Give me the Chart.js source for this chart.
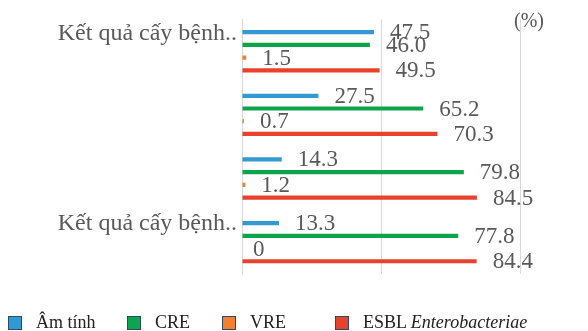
<!DOCTYPE html>
<html lang="vi">
<head>
    <meta charset="UTF-8">
    <title>Kết quả cấy bệnh phẩm</title>
    <script src="https://cdn.jsdelivr.net/npm/chart.js@4/dist/chart.umd.min.js"></script>
    <style>
        html, body { margin: 0; padding: 0; background: #fff; }
        #wrap { position: relative; width: 588px; height: 331px; }
        #legend {
            position: absolute; left: 0; top: 312px; width: 588px; height: 20px;
            font-family: "Liberation Serif", "Times New Roman", serif; font-size: 18px; color: #222;
        }
        #legend .item { position: absolute; top: 0; display: flex; align-items: center; white-space: nowrap; }
        #legend .box { width: 12px; height: 12px; border: 1px solid #2b4a66; margin-right: 14px; }
    </style>
</head>
<body>
    <div id="wrap">
        <canvas id="chart" width="588" height="331"></canvas>
        <div id="legend"></div>
    </div>
    <script>
        // Data
        const categories = ['Kết quả cấy bệnh..', '', '', 'Kết quả cấy bệnh..'];
        const amTinh = [47.5, 27.5, 14.3, 13.3];
        const cre = [46.0, 65.2, 79.8, 77.8];
        const vre = [1.5, 0.7, 1.2, 0];
        const esbl = [49.5, 70.3, 84.5, 84.4];
        const seriesNames = ['Âm tính', 'CRE', 'VRE', 'ESBL'];
        const xTicks = [0, 50, 100];

        const colors = ['#3399d3', '#0ea44c', '#f4802f', '#e8422c'];
        const serif = '"Liberation Serif", "Times New Roman", serif';

        // value labels next to each bar end
        const valueLabels = {
            id: 'valueLabels',
            afterDatasetsDraw(chart) {
                const ctx = chart.ctx;
                ctx.save();
                ctx.font = '23px ' + serif;
                ctx.fillStyle = '#595959';
                ctx.textAlign = 'left';
                ctx.textBaseline = 'middle';
                chart.data.datasets.forEach((ds, i) => {
                    chart.getDatasetMeta(i).data.forEach((bar, j) => {
                        const v = ds.data[j];
                        const txt = v === 0 ? '0' : v.toFixed(1);
                        ctx.fillText(txt, bar.x + (v === 0 ? 11 : 16), bar.y + 1);
                    });
                });
                // unit label at top right
                const xs = chart.scales.x;
                ctx.font = '20px ' + serif;
                ctx.textAlign = 'center';
                ctx.fillText('(%)', xs.getPixelForValue(xTicks[2]) + 9, 22);
                ctx.restore();
            }
        };

        const chart = new Chart(document.getElementById('chart'), {
            type: 'bar',
            data: {
                labels: categories,
                datasets: [amTinh, cre, vre, esbl].map((d, i) => ({
                    label: seriesNames[i],
                    data: d,
                    backgroundColor: colors[i],
                    borderWidth: 0,
                    categoryPercentage: 0.8,
                    barPercentage: 0.33
                }))
            },
            options: {
                indexAxis: 'y',
                responsive: false,
                animation: false,
                layout: { padding: { top: 18, bottom: 57, right: 68, left: 0 } },
                plugins: { legend: { display: false }, tooltip: { enabled: false } },
                scales: {
                    x: {
                        min: 0,
                        max: 100,
                        afterBuildTicks(scale) { scale.ticks = xTicks.map(v => ({ value: v })); },
                        afterFit(scale) { scale.height = 0; },
                        ticks: { display: false },
                        grid: { color: '#d9d9d9', drawTicks: false },
                        border: { display: false }
                    },
                    y: {
                        afterFit(scale) { scale.width = 242; },
                        grid: { display: false, drawTicks: false },
                        border: { color: '#d9d9d9' },
                        ticks: {
                            color: '#595959',
                            font: { family: serif, size: 24 },
                            padding: 5,
                            labelOffset: -18,
                            autoSkip: false
                        }
                    }
                }
            },
            plugins: [valueLabels]
        });

        // legend (ESBL name has an italic part)
        const legendX = [8, 127, 222, 335];
        const legendHtml = ['Âm tính', 'CRE', 'VRE', 'ESBL <i>Enterobacteriae</i>'];
        const legend = document.getElementById('legend');
        legendHtml.forEach((t, i) => {
            const it = document.createElement('div');
            it.className = 'item';
            it.style.left = legendX[i] + 'px';
            it.innerHTML = '<span class="box" style="background:' + colors[i] + '"></span><span>' + t + '</span>';
            legend.appendChild(it);
        });
    </script>
</body>
</html>
